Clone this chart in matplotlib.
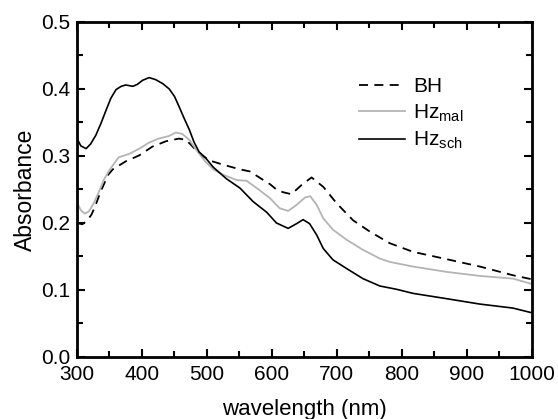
import matplotlib
matplotlib.use("Agg")
import matplotlib.pyplot as plt
from matplotlib.ticker import MultipleLocator, FormatStrFormatter

plt.rcParams['font.family'] = ['Liberation Sans', 'DejaVu Sans']
plt.rcParams['mathtext.fontset'] = 'custom'
plt.rcParams['mathtext.rm'] = 'Liberation Sans'
plt.rcParams['mathtext.it'] = 'Liberation Sans'

# Data (wavelength nm, absorbance)
bh_x = [300, 308, 315, 322, 328, 336, 348, 355, 375, 396, 416, 437, 457, 468, 480, 492,
        505, 525, 551, 566, 587, 597, 607, 617, 630, 646, 661, 679, 700, 725, 751, 781,
        817, 869, 920, 971, 1000]
bh_y = [0.200, 0.198, 0.203, 0.212, 0.225, 0.246, 0.272, 0.280, 0.292, 0.301, 0.314, 0.322,
        0.326, 0.324, 0.312, 0.301, 0.293, 0.287, 0.280, 0.277, 0.264, 0.258, 0.250, 0.246,
        0.243, 0.257, 0.268, 0.254, 0.229, 0.204, 0.187, 0.170, 0.157, 0.146, 0.135, 0.122,
        0.116]

mal_x = [300, 306, 312, 318, 326, 333, 341, 350, 364, 380, 396, 411, 426, 442, 452, 462,
         473, 483, 498, 510, 525, 546, 561, 581, 597, 612, 625, 638, 651, 659, 669, 679,
         694, 715, 740, 766, 781, 817, 869, 920, 971, 1000]
mal_y = [0.230, 0.219, 0.214, 0.217, 0.230, 0.245, 0.264, 0.279, 0.298, 0.303, 0.311, 0.320,
         0.326, 0.330, 0.335, 0.333, 0.324, 0.310, 0.291, 0.280, 0.272, 0.264, 0.263, 0.249,
         0.237, 0.222, 0.218, 0.227, 0.238, 0.240, 0.227, 0.207, 0.190, 0.175, 0.160, 0.147,
         0.142, 0.135, 0.127, 0.121, 0.117, 0.109]

sch_x = [300, 306, 314, 321, 329, 337, 345, 352, 360, 368, 375, 386, 393, 401, 411, 421,
         432, 442, 450, 457, 465, 473, 480, 488, 498, 510, 530, 551, 571, 592, 607, 625,
         638, 648, 658, 669, 679, 694, 715, 740, 766, 792, 817, 869, 920, 971, 1000]
sch_y = [0.326, 0.315, 0.311, 0.318, 0.331, 0.349, 0.369, 0.386, 0.399, 0.404, 0.406, 0.404,
         0.407, 0.413, 0.417, 0.414, 0.408, 0.400, 0.389, 0.374, 0.356, 0.339, 0.321, 0.306,
         0.297, 0.283, 0.266, 0.252, 0.232, 0.216, 0.200, 0.192, 0.199, 0.205, 0.199, 0.182,
         0.162, 0.145, 0.132, 0.117, 0.106, 0.101, 0.095, 0.087, 0.079, 0.073, 0.066]

fig = plt.figure(figsize=(5.58, 4.19), dpi=100)
ax = fig.add_axes([0.138, 0.148, 0.815, 0.7995])

ax.plot(bh_x, bh_y, color='black', lw=1.3, ls=(0, (5, 3.5)), label='BH')
ax.plot(mal_x, mal_y, color='#b4b4b4', lw=1.3, label=r'Hz$_{\mathrm{mal}}$')
ax.plot(sch_x, sch_y, color='black', lw=1.2, label=r'Hz$_{\mathrm{sch}}$')

ax.set_xlim(300, 1000)
ax.set_ylim(0.0, 0.5)
ax.xaxis.set_major_locator(MultipleLocator(100))
ax.xaxis.set_minor_locator(MultipleLocator(50))
ax.yaxis.set_major_locator(MultipleLocator(0.1))
ax.yaxis.set_minor_locator(MultipleLocator(0.05))
ax.yaxis.set_major_formatter(FormatStrFormatter('%.1f'))

for s in ax.spines.values():
    s.set_linewidth(2.0)
ax.tick_params(which='both', direction='in', top=True, right=True, width=1.5,
               labelsize=15)
ax.tick_params(axis='x', which='both', pad=6)
ax.tick_params(axis='y', which='both', pad=5)
ax.tick_params(which='major', length=6)
ax.tick_params(which='minor', length=4)

ax.set_xlabel('wavelength (nm)', fontsize=16, labelpad=10.5)
ax.set_ylabel('Absorbance', fontsize=16.5, labelpad=3)

leg = ax.legend(loc='upper right', bbox_to_anchor=(0.868, 0.86), frameon=False,
                fontsize=15, handlelength=2.2, handletextpad=0.4, labelspacing=0.3,
                borderaxespad=0)

fig.savefig('out.png', dpi=100)
